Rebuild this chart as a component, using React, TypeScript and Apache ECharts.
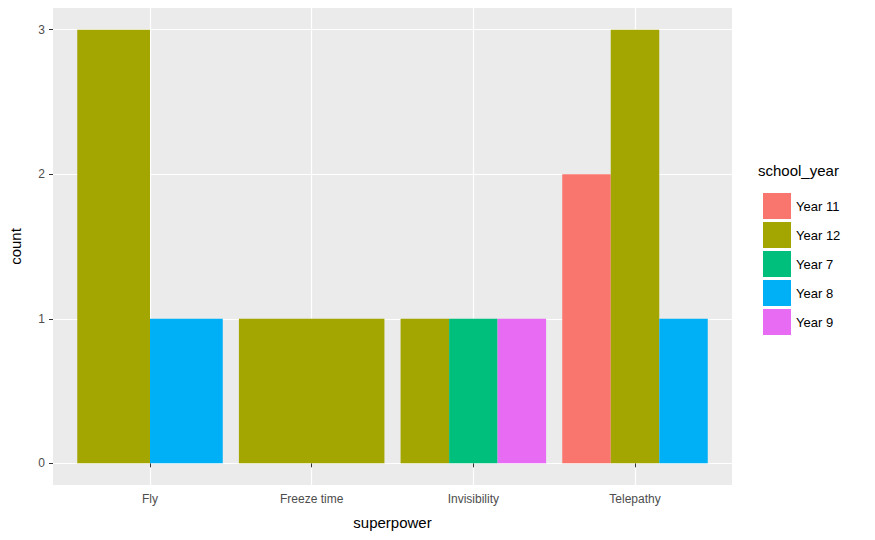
import { useEffect, useRef } from 'react';
import * as echarts from 'echarts';

const superpowers = ['Fly', 'Freeze time', 'Invisibility', 'Telepathy'];
const years = ['Year 11', 'Year 12', 'Year 7', 'Year 8', 'Year 9'];
const yearColors = ['#F8766D', '#A3A500', '#00BF7D', '#00B0F6', '#E76BF3'];
const countTicks = [0, 1, 2, 3];

// [superpower index (1-based), count, dodge slot, slots in group]
const year11 = [[4, 2, 0, 3]];
const year12 = [[1, 3, 0, 2], [2, 1, 0, 1], [3, 1, 0, 3], [4, 3, 1, 3]];
const year7 = [[3, 1, 1, 3]];
const year8 = [[1, 1, 1, 2], [4, 1, 2, 3]];
const year9 = [[3, 1, 2, 3]];
const yearData = [year11, year12, year7, year8, year9];

const font = '"Liberation Sans", Arial, sans-serif';

export default function App() {
  const ref = useRef<HTMLDivElement>(null);

  useEffect(() => {
    document.body.style.margin = '0';
    if (!ref.current) return;
    const chart = echarts.init(ref.current, null, { renderer: 'svg' });

    const renderItem = (params: any, api: any) => {
      const x = api.value(0);
      const v = api.value(1);
      const slot = api.value(2);
      const n = api.value(3);
      const total = api.size([0.9, 0])[0];
      const w = total / n;
      const base = api.coord([x, 0]);
      const top = api.coord([x, v]);
      return {
        type: 'rect',
        shape: { x: base[0] - total / 2 + slot * w, y: top[1], width: w, height: base[1] - top[1] },
        style: { fill: api.visual('color') },
      };
    };

    chart.setOption({
      animation: false,
      textStyle: { fontFamily: font },
      grid: { left: 47, right: 143, top: 8, bottom: 55, backgroundColor: '#EBEBEB', show: true, borderWidth: 0 },
      xAxis: {
        type: 'value',
        min: 0.4,
        max: 4.6,
        name: 'superpower',
        nameLocation: 'middle',
        nameGap: 30,
        nameTextStyle: { color: '#000', fontSize: 15, fontFamily: font },
        axisLine: { show: false },
        axisTick: { show: true, length: 4, lineStyle: { color: '#333' }, customValues: [1, 2, 3, 4] },
        axisLabel: {
          color: '#4D4D4D', fontSize: 12, margin: 8, fontFamily: font,
          customValues: [1, 2, 3, 4],
          formatter: (v: number) => superpowers[Math.round(v) - 1] ?? '',
        },
        splitLine: { show: true, lineStyle: { color: '#fff', width: 1.2 } },
      },
      yAxis: {
        type: 'value',
        min: -0.15,
        max: 3.15,
        name: 'count',
        nameLocation: 'middle',
        nameGap: 30,
        nameTextStyle: { color: '#000', fontSize: 15, fontFamily: font },
        axisLine: { show: false },
        axisTick: { show: true, length: 4, lineStyle: { color: '#333' }, customValues: countTicks },
        axisLabel: { color: '#4D4D4D', fontSize: 12, margin: 8, fontFamily: font, customValues: countTicks },
        splitLine: { show: true, lineStyle: { color: '#fff', width: 1.2 } },
      },
      legend: {
        orient: 'vertical',
        left: 758,
        top: 188,
        itemWidth: 28,
        itemHeight: 26,
        itemGap: 3,
        icon: 'rect',
        textStyle: { color: '#000', fontSize: 13, fontFamily: font },
        data: years,
      },
      graphic: [
        { type: 'text', left: 758, top: 163, style: { text: 'school_year', fontSize: 15, fill: '#000', fontFamily: font } },
      ],
      series: years.map((name, i) => ({
        name,
        type: 'custom',
        renderItem,
        itemStyle: { color: yearColors[i] },
        encode: { x: 0, y: 1 },
        data: yearData[i],
      })),
    });

    return () => chart.dispose();
  }, []);

  return <div ref={ref} style={{ width: 875, height: 540 }} />;
}
